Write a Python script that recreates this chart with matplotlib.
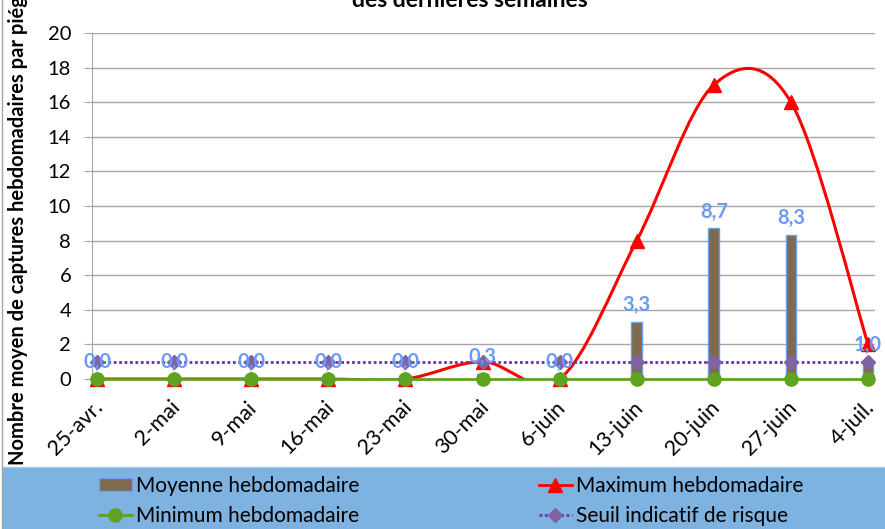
import matplotlib
matplotlib.use("Agg")
import matplotlib.pyplot as plt
from matplotlib.path import Path
from matplotlib.patches import PathPatch, Rectangle, Patch
from matplotlib.lines import Line2D
from matplotlib.transforms import ScaledTranslation
import numpy as np

plt.rcParams['font.family'] = ['Lato', 'DejaVu Sans']

categories = ["25-avr.", "2-mai", "9-mai", "16-mai", "23-mai", "30-mai",
              "6-juin", "13-juin", "20-juin", "27-juin", "4-juil."]
moyenne = [0.0, 0.0, 0.0, 0.0, 0.0, 0.3, 0.0, 3.3, 8.7, 8.3, 1.0]
maximum = [0, 0, 0, 0, 0, 1, 0, 8, 17, 16, 2]
minimum = [0, 0, 0, 0, 0, 0, 0, 0, 0, 0, 0]
seuil = [1, 1, 1, 1, 1, 1, 1, 1, 1, 1, 1]
yticks = [0, 2, 4, 6, 8, 10, 12, 14, 16, 18, 20]

W, H = 885, 529
fig = plt.figure(figsize=(W / 100, H / 100), dpi=100)
fig.patch.set_facecolor('white')

# legend band background
fig.patches.append(Rectangle((3 / W, 0), 1, (529 - 467) / H, transform=fig.transFigure,
                             facecolor='#7EB3E1', edgecolor='none', zorder=0))
fig.add_artist(Line2D([3 / W, 1], [(529 - 467) / H] * 2, transform=fig.transFigure,
                      color='#A9CBEA', lw=1))
fig.add_artist(Line2D([2 / W, 2 / W], [0, 1], transform=fig.transFigure,
                      color='#A6A6A6', lw=1))

ax = fig.add_axes([92 / W, 1 - 379 / H, (875 - 92) / W, (379 - 33) / H])
x = np.arange(len(categories))

ax.set_ylim(0, 20)
ax.set_xlim(-0.065, 10.09)
ax.set_yticks(yticks)
ax.yaxis.grid(True, color='#A6A6A6', lw=1)
ax.set_axisbelow(True)
for s in ['top', 'right', 'bottom']:
    ax.spines[s].set_visible(False)
ax.spines['left'].set_color('#A6A6A6')
ax.tick_params(axis='y', length=6, color='#A6A6A6', labelsize=14.5, pad=9)
ax.tick_params(axis='x', length=0, labelsize=15.5, pad=18)
ax.set_xticks(x)
ax.set_xticklabels(categories, rotation=45, ha='right', va='center',
                   rotation_mode='anchor')
shift = ScaledTranslation(3 / 100, 0, fig.dpi_scale_trans)
for lab in ax.get_xticklabels():
    lab.set_transform(lab.get_transform() + shift)

# bars
bar_c = '#7F6A50'
edge_c = '#6F9BF0'
ax.bar(x, moyenne, width=0.14, color=bar_c, edgecolor=edge_c, lw=1, zorder=2)

# min line
green = '#5EA321'
ax.plot(x, minimum, color=green, lw=2, marker='o', ms=9.5, zorder=4, clip_on=False)

# smoothed max line (Catmull-Rom style bezier, as Excel smoothing)
pts = np.column_stack([x, maximum]).astype(float)
verts = [pts[0]]
codes = [Path.MOVETO]
n = len(pts)
for i in range(n - 1):
    p0 = pts[i - 1] if i > 0 else pts[i]
    p1 = pts[i]
    p2 = pts[i + 1]
    p3 = pts[i + 2] if i + 2 < n else pts[i + 1]
    c1 = p1 + (p2 - p0) / 6.0
    c2 = p2 - (p3 - p1) / 6.0
    verts += [c1, c2, p2]
    codes += [Path.CURVE4] * 3
red = '#FF0000'
ax.add_patch(PathPatch(Path(verts, codes), facecolor='none', edgecolor=red, lw=2.2, zorder=3))
ax.plot(x, maximum, ls='none', marker='^', ms=9.5, color=red, zorder=3, clip_on=False)

# seuil
purple = '#7030A0'
ax.plot(x, seuil, color=purple, lw=2, ls=(0, (1, 0.95)), zorder=5)
ax.plot(x, seuil, ls='none', marker='D', ms=7.5, color='#8064A2', zorder=5, clip_on=False)

# data labels
lab_c = '#6A9AF7'
for xi, v in zip(x, moyenne):
    ax.annotate(f"{v:.1f}".replace('.', ','), (xi, v), xytext=(0, 5),
                textcoords='offset points', ha='center', va='bottom',
                color=lab_c, fontsize=14.5, fontweight='bold', zorder=6)

# titles
fig.text(470 / W, 1 - 7 / H, "des dernières semaines", ha='center', va='baseline',
         fontsize=16.5, fontweight='bold')
fig.text(18 / W, 1 - 465 / H, "Nombre moyen de captures hebdomadaires par piége",
         rotation=90, ha='center', va='bottom', fontsize=14.5, fontweight='bold')

# legend
handles = [
    Patch(facecolor=bar_c, edgecolor=edge_c, lw=1),
    Line2D([], [], color=green, lw=2, marker='o', ms=9.5),
    Line2D([], [], color=red, lw=2, marker='^', ms=9.5),
    Line2D([], [], color=purple, lw=2, ls=(0, (1, 0.95)), marker='D', ms=7.5,
           markerfacecolor='#8064A2', markeredgecolor='#8064A2'),
]
labels = ["Moyenne hebdomadaire", "Minimum hebdomadaire",
          "Maximum hebdomadaire", "Seuil indicatif de risque"]
fig.legend(handles, labels, ncol=2, loc='center', bbox_to_anchor=(451 / W, 1 - 501 / H),
           frameon=False, fontsize=15, handlelength=1.6, handleheight=0.55,
           handletextpad=0.2, columnspacing=8.6, labelspacing=0.5,
           borderpad=0)

fig.savefig("out.png", dpi=100)
